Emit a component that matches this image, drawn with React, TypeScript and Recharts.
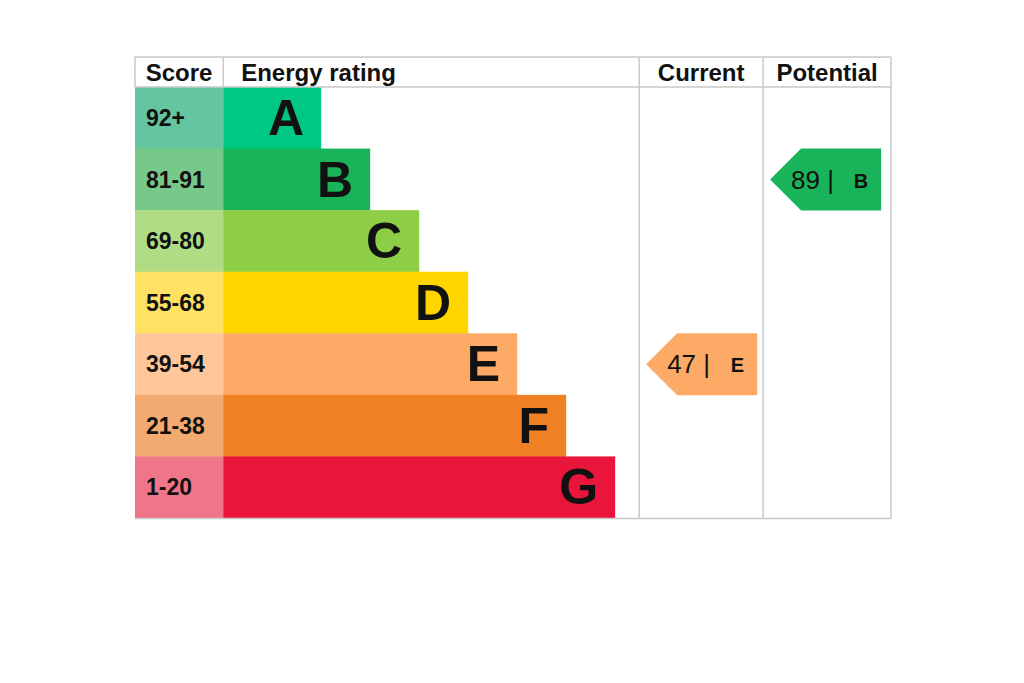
import React from 'react';
import { ComposedChart, Bar, XAxis, YAxis } from 'recharts';

// EPC bands, top to bottom
const bands = ['A', 'B', 'C', 'D', 'E', 'F', 'G'];
const scoreRanges = ['92+', '81-91', '69-80', '55-68', '39-54', '21-38', '1-20'];
const barLengths = [2, 3, 4, 5, 6, 7, 8];
const bandColors = ['#00c781', '#19b459', '#8dce46', '#ffd500', '#fcaa65', '#ef8023', '#e9153b'];
const scoreColors = ['#64c5a0', '#77c98a', '#b0dd84', '#ffe264', '#fec699', '#f3aa70', '#f07589'];

const currentScore = 47;
const currentBand = 'E';
const potentialScore = 89;
const potentialBand = 'B';

// column widths, same units as barLengths
const SCORE_COL = 1.8;
const RATING_COL = 8.49;
const CURRENT_COL = 2.53;
const POTENTIAL_COL = 2.61;
const TOTAL = SCORE_COL + RATING_COL + CURRENT_COL + POTENTIAL_COL;

const CHART_W = 1016;
const CHART_H = 675;
const MARGIN = { top: 49, right: 133, bottom: 165, left: 127 };
const HEADER_H = 30;
const HEADER_TOP = MARGIN.top;
const PLOT_TOP = MARGIN.top + HEADER_H;
const PLOT_BOTTOM = CHART_H - MARGIN.bottom;
const PLOT_W = CHART_W - MARGIN.left - MARGIN.right;

const GRID = '#c9c9c9';
const FONT = '"Liberation Sans", Arial, sans-serif';
const ARROW_W = 111;

const columns = (() => {
    const defs = [
        { label: 'Score', width: SCORE_COL, align: 'middle', fullHeight: false },
        { label: 'Energy rating', width: RATING_COL, align: 'start', fullHeight: false },
        { label: 'Current', width: CURRENT_COL, align: 'middle', fullHeight: true },
        { label: 'Potential', width: POTENTIAL_COL, align: 'middle', fullHeight: true },
    ];
    let start = 0;
    return defs.map((d) => {
        const col = { ...d, start, center: start + d.width / 2 };
        start += d.width;
        return col;
    });
})();

const headerTicks = [
    ...columns.map((c) => c.start),
    TOTAL,
    ...columns.filter((c) => c.align === 'middle').map((c) => c.center),
].sort((a, b) => a - b);

const rows = bands.map((band, i) => ({
    band,
    range: scoreRanges[i],
    score: SCORE_COL,
    rating: barLengths[i],
    pad: RATING_COL - barLengths[i],
    current: CURRENT_COL,
    potential: POTENTIAL_COL,
}));

const near = (a: number, b: number) => Math.abs(a - b) < 1e-6;

// header row + table frame, drawn from the top axis ticks
const HeaderTick = (props: any) => {
    const { x, payload } = props;
    const v = payload.value;
    const parts: React.ReactNode[] = [];
    const label = (text: string, tx: number, anchor: string) => (
        <text key={text} x={tx} y={HEADER_TOP + HEADER_H / 2} textAnchor={anchor} dominantBaseline="central"
            fontFamily={FONT} fontWeight="bold" fontSize={24} fill="#111">{text}</text>
    );

    if (near(v, 0)) {
        parts.push(<line key="top" x1={x} x2={x + PLOT_W} y1={HEADER_TOP} y2={HEADER_TOP} stroke={GRID} strokeWidth={1.5} />);
        parts.push(<line key="bottom" x1={x} x2={x + PLOT_W} y1={PLOT_BOTTOM + 0.5} y2={PLOT_BOTTOM + 0.5} stroke={GRID} strokeWidth={1.5} />);
    }
    columns.forEach((c) => {
        if (near(v, c.start)) {
            parts.push(<line key={'l' + c.label} x1={x} x2={x} y1={HEADER_TOP} y2={c.fullHeight ? PLOT_BOTTOM : PLOT_TOP} stroke={GRID} strokeWidth={1.5} />);
            if (c.align === 'start') parts.push(label(c.label, x + 18, 'start'));
        }
        if (c.align === 'middle' && near(v, c.center)) parts.push(label(c.label, x, 'middle'));
    });
    if (near(v, TOTAL)) {
        parts.push(<line key="right" x1={x} x2={x} y1={HEADER_TOP} y2={PLOT_BOTTOM + 1} stroke={GRID} strokeWidth={1.5} />);
    }
    return <g>{parts}</g>;
};

const ScoreCell = (props: any) => {
    const { x, y, width, height, index, payload } = props;
    return (
        <g>
            <rect x={x} y={y} width={width} height={height} fill={scoreColors[index]} />
            <text x={x + 11} y={y + height / 2} dominantBaseline="central" fontFamily={FONT}
                fontWeight="bold" fontSize={23} fill="#111">{payload.range}</text>
        </g>
    );
};

const RatingBar = (props: any) => {
    const { x, y, width, height, index, payload } = props;
    return (
        <g>
            <rect x={x} y={y} width={width} height={height} fill={bandColors[index]} />
            <text x={x + width - 17} y={y + height / 2} textAnchor="end" dominantBaseline="central"
                fontFamily={FONT} fontWeight="bold" fontSize={50} fill="#111">{payload.band}</text>
        </g>
    );
};

const arrowShape = (target: string, score: number) => (props: any) => {
    const { x, y, height, payload } = props;
    if (payload.band !== target) return <g />;
    const idx = bands.indexOf(target);
    const left = x + 7;
    const right = left + ARROW_W;
    const tip = height / 2;
    const cy = y + height / 2;
    const pts = `${left},${cy} ${left + tip},${y} ${right},${y} ${right},${y + height} ${left + tip},${y + height}`;
    return (
        <g>
            <polygon points={pts} fill={bandColors[idx]} />
            <text x={left + 21} y={cy} dominantBaseline="central" fontFamily={FONT} fontSize={26} fill="#111">
                {`${score} |`}
            </text>
            <text x={right - 13} y={cy + 1} textAnchor="end" dominantBaseline="central" fontFamily={FONT}
                fontWeight="bold" fontSize={20} fill="#111">{target}</text>
        </g>
    );
};

export default function App() {
    return (
        <ComposedChart
            width={CHART_W}
            height={CHART_H}
            data={rows}
            layout="vertical"
            margin={MARGIN}
            barCategoryGap={0}
        >
            <XAxis
                xAxisId="top"
                orientation="top"
                type="number"
                domain={[0, TOTAL]}
                ticks={headerTicks}
                interval={0}
                tick={HeaderTick}
                tickLine={false}
                axisLine={{ stroke: GRID, strokeWidth: 1.5 }}
                height={HEADER_H}
                allowDataOverflow
            />
            <YAxis type="category" dataKey="band" hide width={0} />
            <Bar xAxisId="top" dataKey="score" stackId="row" shape={ScoreCell} isAnimationActive={false} />
            <Bar xAxisId="top" dataKey="rating" stackId="row" shape={RatingBar} isAnimationActive={false} />
            <Bar xAxisId="top" dataKey="pad" stackId="row" fill="transparent" isAnimationActive={false} />
            <Bar xAxisId="top" dataKey="current" stackId="row" shape={arrowShape(currentBand, currentScore)} isAnimationActive={false} />
            <Bar xAxisId="top" dataKey="potential" stackId="row" shape={arrowShape(potentialBand, potentialScore)} isAnimationActive={false} />
        </ComposedChart>
    );
}
